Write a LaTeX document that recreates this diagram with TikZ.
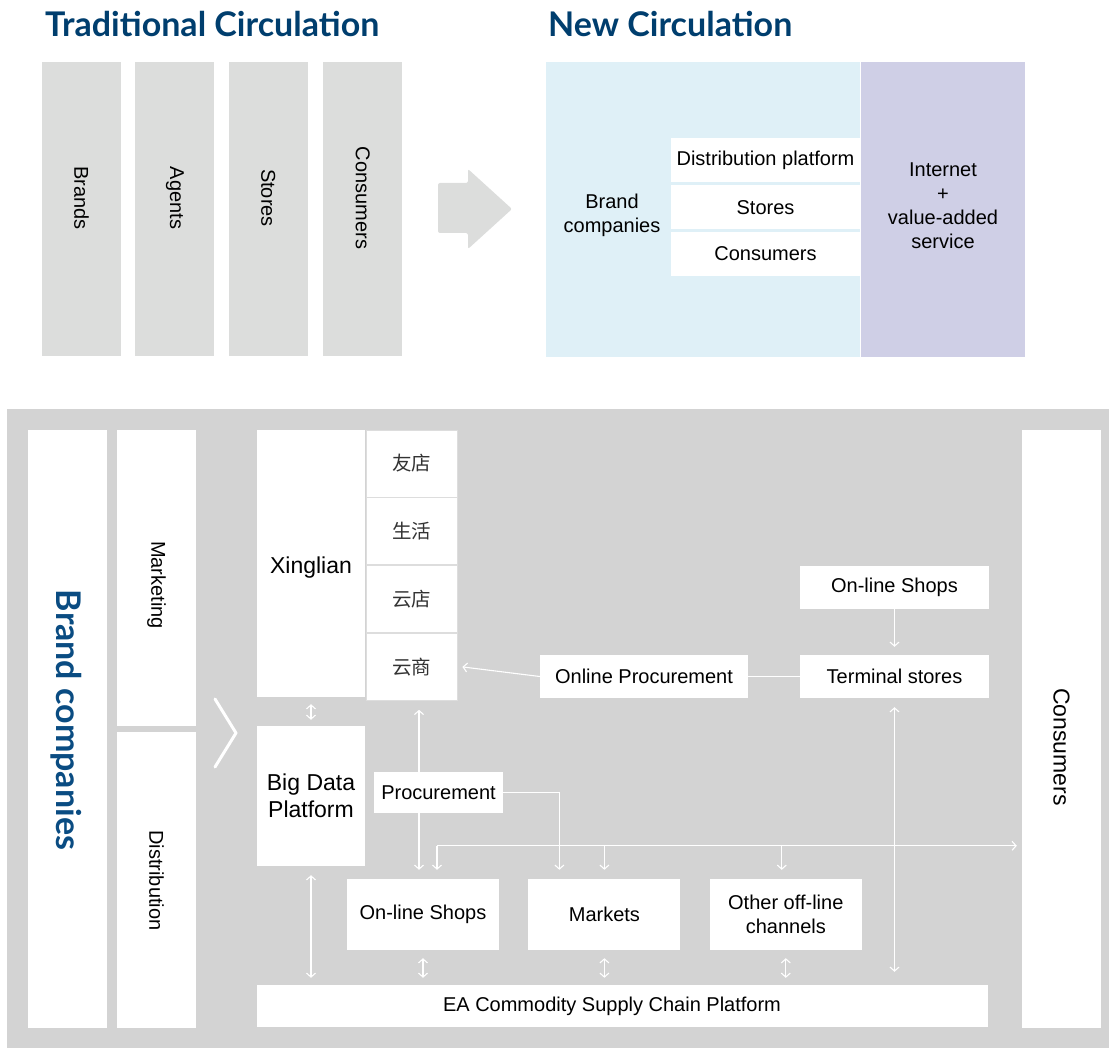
\documentclass[tikz,border=0pt]{standalone}
\usepackage{fontspec}
\setmainfont{Liberation Sans}
\newfontfamily\headfont{Lato}
\newfontfamily\cjkfont{Noto Sans CJK SC}
\usetikzlibrary{positioning,arrows.meta,calc}
\definecolor{headblue}{HTML}{003E6E}
\definecolor{brandblue}{HTML}{0A4C82}
\definecolor{oldgray}{HTML}{DCDDDC}
\definecolor{newblue}{HTML}{DFF0F7}
\definecolor{newpurple}{HTML}{CFCFE6}
\definecolor{bggray}{HTML}{D3D3D3}
\definecolor{divgray}{HTML}{DDDDDD}

\begin{document}
\begin{tikzpicture}[x=1pt,y=-1pt,
  every node/.style={font=\fontsize{20}{24}\selectfont,inner sep=0pt},
  head/.style={font=\headfont\bfseries\fontsize{34}{40}\selectfont,text=headblue,anchor=base west},
  col/.style={fill=oldgray,minimum width=79pt,minimum height=294pt},
  vtext/.style={rotate=-90},
  wbox/.style={fill=white,align=center},
  bigtext/.style={font=\fontsize{23}{27}\selectfont},
  row/.style={wbox,minimum width=189pt,minimum height=44pt},
  sbox/.style={wbox,minimum height=43pt},
  cell/.style={wbox,draw=divgray,line width=0.8pt,minimum width=91pt,minimum height=67pt,text=black!80,font=\cjkfont\fontsize{19.5}{22}\selectfont},
  lbox/.style={wbox,minimum width=152pt,minimum height=71pt},
  wire/.style={white,line width=1.1pt},
  arr/.style={wire,-{Straight Barb[length=4pt,width=9pt]}},
  darr/.style={wire,{Straight Barb[length=4pt,width=9pt]}-{Straight Barb[length=4pt,width=9pt]}}
]
\useasboundingbox (0,0) rectangle (1109,1048);

% Titles
\node[head] (oldtitle) at (45,37) {Traditional Circulation};
\node[head] (newtitle) at (548,37) {New Circulation};

% Traditional circulation - four columns
\node[col] (brands) at (81.5,209) {};
\node[col,right=14pt of brands] (agents) {};
\node[col,right=14pt of agents] (stores) {};
\node[col,right=15pt of stores] (consumers) {};
\foreach \c/\t in {brands/Brands,agents/Agents,stores/Stores,consumers/Consumers}
  \node[vtext] (\c-text) at ([yshift=11pt]\c.center) {\t};

% Big arrow between the two
\fill[oldgray,rounded corners=2pt] (438,183) -- (468,183) -- (468,169) -- (512,209) -- (468,249) -- (468,233) -- (438,233) -- cycle;

% New circulation
\node[fill=newblue,minimum width=314pt,minimum height=295pt] (newbox) at (703,209.5) {};
\node[fill=newpurple,minimum width=164pt,minimum height=295pt,right=1pt of newbox] (valuebox) {};
\node[align=center] (valuetext) at (943,205.5) {Internet\\+\\value-added\\service};
\node[row] (distplat) at (765.5,160) {Distribution platform};
\node[row,below=3pt of distplat] (newstores) {Stores};
\node[row,below=2pt of newstores] (newcons) {Consumers};
\node[align=center] (brandco) at (612,215) {Brand\\companies};

% Bottom panel
\fill[bggray] (7,409) rectangle (1109,1048);
\node[wbox,minimum width=79pt,minimum height=598pt] (brandcol) at (67.5,729) {};
\node[vtext,font=\headfont\bfseries\fontsize{34}{40}\selectfont,text=brandblue] (brandcol-text) at (66,720) {Brand companies};
\node[wbox,minimum width=79pt,minimum height=296pt] (marketing) at (156.5,578) {};
\node[wbox,minimum width=79pt,minimum height=296pt,below=6pt of marketing] (distribution) {};
\node[vtext] (marketing-text) at ([yshift=-7pt]marketing.center) {Marketing};
\node[vtext] (distribution-text) at (distribution.center) {Distribution};
\node[wbox,minimum width=79pt,minimum height=598pt] (endcons) at (1061.5,729) {};
\node[vtext,bigtext] (endcons-text) at (1061.5,747) {Consumers};

\draw[white,line width=3pt,line cap=round,line join=round] (215,699) -- (236,733) -- (215,767);

% Xinglian and its platforms
\node[wbox,minimum width=108pt,minimum height=267pt] (xing) at (311,563.5) {};
\node[bigtext] (xing-text) at (311,568) {Xinglian};
\node[cell] (youdian) at (411.5,463.5) {友店};
\node[cell,below=0pt of youdian] (shenghuo) {生活};
\node[cell,below=0pt of shenghuo] (yundian) {云店};
\node[cell,below=0pt of yundian] (yunshang) {云商};
\node[wbox,bigtext,minimum width=108pt,minimum height=140pt] (bigdata) at (311,796) {Big Data\\Platform};

% Channels
\node[lbox] (lshops) at (423,914.5) {On-line Shops};
\node[lbox,right=29pt of lshops] (markets) {Markets};
\node[lbox,right=29pt of markets] (other) {Other off-line\\channels};
\node[wbox,minimum width=731pt,minimum height=42pt] (ea) at (622.5,1006) {};
\node (ea-text) at (612,1006) {EA Commodity Supply Chain Platform};
\node[sbox,minimum width=208pt] (onproc) at (644,676.5) {Online Procurement};
\node[sbox,minimum width=189pt] (terminal) at (894.5,676.5) {Terminal stores};
\node[sbox,minimum width=189pt,above=46pt of terminal] (tshops) {On-line Shops};

\draw[darr] ($(yunshang.south -| lshops.north)+(-4,9)$) -- ($(lshops.north)+(-4,-9)$);
\node[wbox,minimum width=129pt,minimum height=41pt] (procure) at (438.5,792.5) {Procurement};

% Connectors
\draw[wire] (terminal.west) -- (onproc.east);
\draw[arr] (onproc.west) -- ($(yunshang.east)+(5,0)$);
\draw[arr] (tshops.south) -- ($(terminal.north)+(0,-8)$);
\draw[darr] ($(terminal.south)+(0,9)$) -- ($(terminal.south |- ea.north)+(0,-13)$);
\draw[darr] ($(xing.south)+(0,7)$) -- ($(bigdata.north)+(0,-6)$);
\draw[darr] ($(bigdata.south)+(0,9)$) -- ($(bigdata.south |- ea.north)+(0,-7)$);
\coordinate (bus) at ($(lshops.north)+(14,-33)$);
\draw[arr] (bus) -- ($(bus |- lshops.north)+(0,-9)$);
\draw[arr] (bus) -- ($(bus -| endcons.west)+(-5,0)$);
\draw[arr] (bus -| markets.north) -- ($(markets.north)+(0,-9)$);
\draw[arr] ($(bus -| other.north)+(-4,0)$) -- ($(other.north)+(-4,-9)$);
\draw[arr] (procure.east) -| ($(markets.north)+(-45,-9)$);
\foreach \b in {lshops,markets,other}
  \draw[darr] ($(\b.south)+(0,8)$) -- ($(\b.south |- ea.north)+(0,-7)$);
\end{tikzpicture}
\end{document}
